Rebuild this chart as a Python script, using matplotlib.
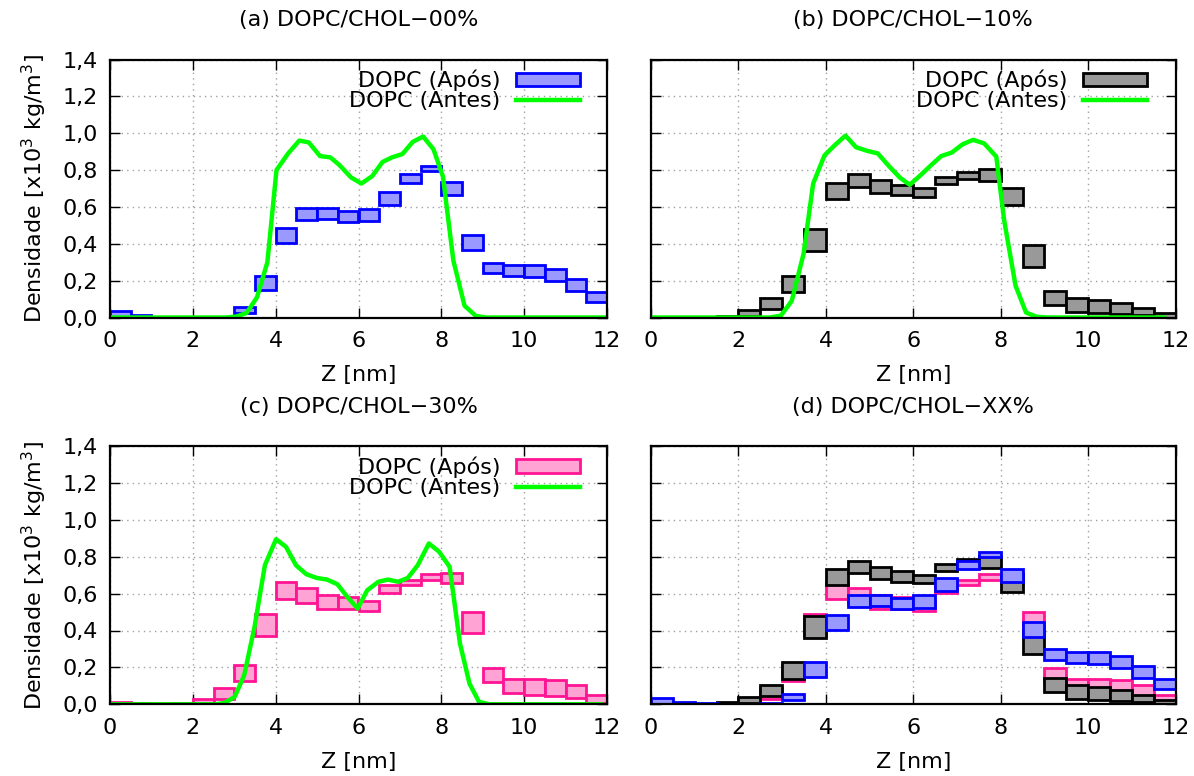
import matplotlib
matplotlib.use("Agg")
import matplotlib.pyplot as plt
from matplotlib.patches import Patch
from matplotlib.lines import Line2D

plt.rcParams['font.family'] = ['DejaVu Sans']
plt.rcParams['mathtext.fontset'] = 'dejavusans'

FS = 16

# Z bins (nm): each box covers [left edge, left edge + 0.5]
bin_left = [0.0, 0.5, 1.0, 1.5, 2.0, 2.5, 3.0, 3.5, 4.0, 4.5, 5.0, 5.5,
            6.0, 6.5, 7.0, 7.5, 8.0, 8.5, 9.0, 9.5, 10.0, 10.5, 11.0, 11.5]
bin_width = 0.5

# DOPC density after (lower / upper bound of each box), x10^3 kg/m^3
apos_00_low = [0.004, 0.0, 0.0, 0.0, 0.0, 0.0, 0.022, 0.149, 0.405, 0.527, 0.533, 0.516,
               0.522, 0.613, 0.731, 0.796, 0.664, 0.364, 0.240, 0.224, 0.218, 0.196, 0.145, 0.082]
apos_00_high = [0.033, 0.015, 0.005, 0.002, 0.0, 0.005, 0.055, 0.227, 0.485, 0.595, 0.595, 0.578,
                0.591, 0.682, 0.778, 0.824, 0.733, 0.445, 0.298, 0.285, 0.285, 0.264, 0.207, 0.136]

apos_10_low = [0.0, 0.0, 0.0, 0.0, 0.009, 0.044, 0.136, 0.360, 0.644, 0.709, 0.678, 0.664,
               0.655, 0.725, 0.749, 0.738, 0.611, 0.273, 0.069, 0.031, 0.022, 0.018, 0.011, 0.0]
apos_10_high = [0.0, 0.0, 0.0, 0.010, 0.042, 0.105, 0.227, 0.478, 0.731, 0.778, 0.744, 0.720,
                0.702, 0.760, 0.789, 0.804, 0.705, 0.395, 0.142, 0.104, 0.096, 0.078, 0.053, 0.022]

apos_30_low = [0.0, 0.0, 0.0, 0.0, 0.0, 0.031, 0.127, 0.371, 0.573, 0.550, 0.519, 0.519,
               0.508, 0.602, 0.649, 0.673, 0.658, 0.385, 0.121, 0.060, 0.049, 0.043, 0.034, 0.007]
apos_30_high = [0.013, 0.005, 0.0, 0.007, 0.031, 0.089, 0.215, 0.488, 0.664, 0.631, 0.593, 0.582,
                0.561, 0.644, 0.673, 0.705, 0.714, 0.499, 0.199, 0.139, 0.139, 0.130, 0.107, 0.049]

# DOPC density before (continuous profile)
antes_00_z = [0.0, 2.8, 3.05, 3.3, 3.55, 3.8, 4.02, 4.30, 4.57, 4.80, 5.07, 5.32, 5.54, 5.82,
              6.07, 6.33, 6.58, 6.81, 7.06, 7.31, 7.56, 7.81, 8.04, 8.29, 8.56, 8.83, 9.07, 12.0]
antes_00_rho = [0.0, 0.0, 0.005, 0.025, 0.11, 0.30, 0.80, 0.89, 0.96, 0.95, 0.876, 0.869, 0.827, 0.76,
                0.727, 0.767, 0.844, 0.869, 0.887, 0.953, 0.982, 0.913, 0.764, 0.309, 0.064, 0.009, 0.0, 0.0]

antes_10_z = [0.0, 2.72, 2.97, 3.22, 3.49, 3.71, 3.97, 4.21, 4.45, 4.69, 4.95, 5.19, 5.45, 5.69,
              5.92, 6.17, 6.41, 6.64, 6.88, 7.13, 7.37, 7.62, 7.90, 8.08, 8.34, 8.58, 8.82, 9.06, 11.74]
antes_10_rho = [0.0, 0.0, 0.01, 0.09, 0.345, 0.727, 0.88, 0.936, 0.987, 0.924, 0.904, 0.89, 0.82, 0.76,
                0.72, 0.773, 0.827, 0.876, 0.895, 0.94, 0.964, 0.945, 0.873, 0.527, 0.173, 0.027, 0.004, 0.0, 0.0]

antes_30_z = [0.0, 2.52, 2.76, 3.01, 3.24, 3.49, 3.74, 4.01, 4.25, 4.49, 4.74, 4.99, 5.24, 5.49,
              5.73, 5.98, 6.21, 6.48, 6.71, 6.96, 7.19, 7.43, 7.70, 7.95, 8.20, 8.45, 8.68, 8.91, 9.16, 11.86]
antes_30_rho = [0.0, 0.0, 0.007, 0.04, 0.157, 0.42, 0.754, 0.895, 0.853, 0.754, 0.705, 0.685, 0.676, 0.651,
                0.582, 0.519, 0.618, 0.664, 0.676, 0.664, 0.685, 0.754, 0.872, 0.826, 0.745, 0.329, 0.112, 0.013, 0.0, 0.0]

titles = ["(a) DOPC/CHOL\u221200%", "(b) DOPC/CHOL\u221210%",
          "(c) DOPC/CHOL\u221230%", "(d) DOPC/CHOL\u2212XX%"]
x_ticks = [0, 2, 4, 6, 8, 10, 12]
y_ticks = [0.0, 0.2, 0.4, 0.6, 0.8, 1.0, 1.2, 1.4]
y_tick_labels = ["0,0", "0,2", "0,4", "0,6", "0,8", "1,0", "1,2", "1,4"]
label_apos = "DOPC (Após)"
label_antes = "DOPC (Antes)"

BLUE = dict(face="#9999ff", edge="#0000ff")
GRAY = dict(face="#999999", edge="#000000")
PINK = dict(face="#ffa3d4", edge="#ff1493")
GREEN = "#00ff00"
BOX_LW = 2.0
LINE_LW = 3.2

W, H = 1194, 776
fig = plt.figure(figsize=(W / 100, H / 100), dpi=100)


def px_axes(left, right, top, bottom):
    return fig.add_axes([left / W, 1 - bottom / H, (right - left) / W, (bottom - top) / H])


ax_a = px_axes(110, 607, 59.5, 317.5)
ax_b = px_axes(651, 1175.5, 59.5, 317.5)
ax_c = px_axes(110, 607, 446, 704.3)
ax_d = px_axes(651, 1175.5, 446, 704.3)


def draw_boxes(ax, low, high, style, z):
    heights = [h - l for l, h in zip(low, high)]
    ax.bar(bin_left, heights, bottom=low, width=bin_width, align='edge',
           facecolor=style["face"], edgecolor=style["edge"], linewidth=BOX_LW, zorder=z)


def style_axes(ax, title, show_ylabels):
    ax.set_xlim(0, 12)
    ax.set_ylim(0, 1.4)
    ax.set_xticks(x_ticks)
    ax.set_xticklabels([str(t) for t in x_ticks])
    ax.set_yticks(y_ticks)
    if show_ylabels:
        ax.set_yticklabels(y_tick_labels)
        ax.set_ylabel("Densidade [x10$^{3}$ kg/m$^{3}$]", fontsize=FS, labelpad=9)
    else:
        ax.set_yticklabels([])
    ax.set_xlabel("Z [nm]", fontsize=FS, labelpad=10)
    ax.set_title(title, fontsize=FS, pad=24)
    ax.tick_params(direction='in', length=7, width=1.0, top=True, right=True,
                   labelsize=FS)
    ax.tick_params(axis='x', pad=10)
    ax.tick_params(axis='y', pad=9)
    ax.grid(True, color='#a0a0a0', linestyle=(0, (1, 3)), linewidth=1.0)
    ax.set_axisbelow(True)
    for sp in ax.spines.values():
        sp.set_linewidth(1.6)
        sp.set_zorder(10)


def add_legend(ax, style):
    handles = [Patch(facecolor=style["face"], edgecolor=style["edge"], linewidth=BOX_LW),
               Line2D([0], [0], color=GREEN, linewidth=LINE_LW)]
    leg = ax.legend(handles, [label_apos, label_antes], loc='upper right',
                    bbox_to_anchor=(0.946, 0.96), frameon=False, markerfirst=False,
                    fontsize=FS, handlelength=2.9, handleheight=0.55, handletextpad=0.7,
                    labelspacing=0.0, borderpad=0, borderaxespad=0)
    leg.set_zorder(20)


# (a)
draw_boxes(ax_a, apos_00_low, apos_00_high, BLUE, 3)
ax_a.plot(antes_00_z, antes_00_rho, color=GREEN, linewidth=LINE_LW, zorder=4)
style_axes(ax_a, titles[0], True)
add_legend(ax_a, BLUE)

# (b)
draw_boxes(ax_b, apos_10_low, apos_10_high, GRAY, 3)
ax_b.plot(antes_10_z, antes_10_rho, color=GREEN, linewidth=LINE_LW, zorder=4)
style_axes(ax_b, titles[1], False)
add_legend(ax_b, GRAY)

# (c)
draw_boxes(ax_c, apos_30_low, apos_30_high, PINK, 3)
ax_c.plot(antes_30_z, antes_30_rho, color=GREEN, linewidth=LINE_LW, zorder=4)
style_axes(ax_c, titles[2], True)
add_legend(ax_c, PINK)

# (d) all three after-profiles overlaid
draw_boxes(ax_d, apos_30_low, apos_30_high, PINK, 3)
draw_boxes(ax_d, apos_10_low, apos_10_high, GRAY, 4)
draw_boxes(ax_d, apos_00_low, apos_00_high, BLUE, 5)
style_axes(ax_d, titles[3], False)

fig.savefig("out.png", dpi=100)
